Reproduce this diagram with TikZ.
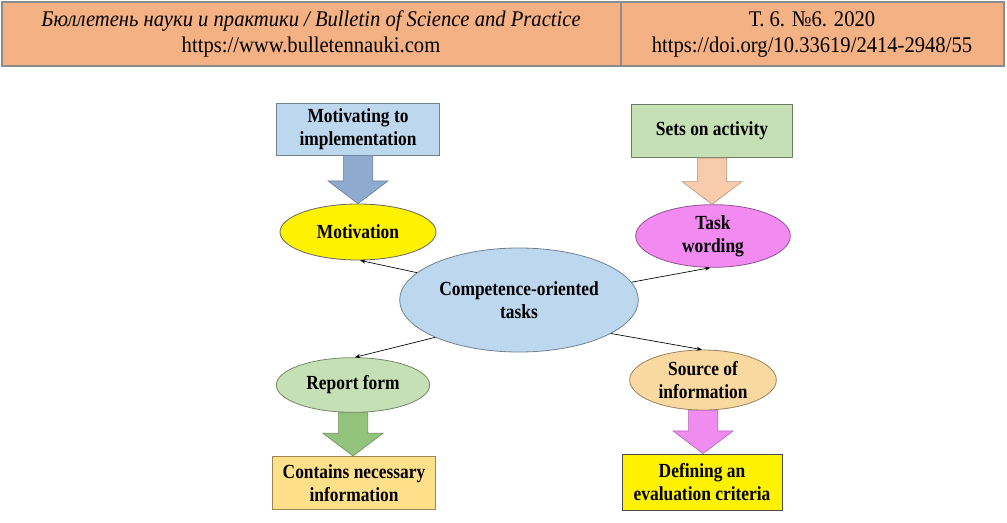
\documentclass[tikz,border=0pt]{standalone}
\usepackage{fontspec}
\setmainfont{Liberation Serif}
\newfontfamily\dfont[FakeStretch=0.87]{Liberation Serif}
\newfontfamily\hfont[FakeStretch=0.92]{Liberation Serif}
\usetikzlibrary{shapes.geometric,calc,arrows.meta}
\definecolor{hdr}{HTML}{F4B183}
\definecolor{hdrline}{HTML}{8C8C8C}
\definecolor{lblue}{HTML}{BDD7EE}
\definecolor{bblue}{HTML}{8FAACF}
\definecolor{lgreen}{HTML}{C5E0B4}
\definecolor{peach}{HTML}{F8CBAD}
\definecolor{lorange}{HTML}{FFE08A}
\definecolor{tan}{HTML}{FAD9A0}
\definecolor{pinkm}{HTML}{F28AF2}
\definecolor{greenar}{HTML}{93C47D}
\definecolor{magar}{HTML}{F08CF0}
\tikzset{
  box/.style={draw=#1!60!black, line width=0.6pt, fill=#1, minimum width=122pt, minimum height=39pt, inner sep=0pt, align=center, font=\dfont\bfseries\fontsize{15}{17}\selectfont},
  ell/.style={ellipse, draw=#1!60!black, line width=0.6pt, fill=#1, inner sep=0pt, align=center, font=\dfont\bfseries\fontsize{15}{17}\selectfont},
  link/.style={-{Stealth[length=4pt,width=3pt]}, line width=0.5pt, black},
  hdrtext/.style={align=center, font=\hfont\fontsize{16.8}{19.5}\selectfont}
}
\newcommand{\fatarrow}[3]{%
  \path[fill=#3, draw=#3!75!black, line width=0.5pt] let \p1=(#1.south), \p2=(#2.north) in
    ({\x1-11pt},\y1) -- ({\x1+11pt},\y1) -- ({\x1+11pt},{\y2+17pt}) -- ({\x1+22.5pt},{\y2+17pt})
    -- (\x1,\y2) -- ({\x1-22.5pt},{\y2+17pt}) -- ({\x1-11pt},{\y2+17pt}) -- cycle;}
\begin{document}
\begin{tikzpicture}[x=0.75pt,y=-0.75pt]
\useasboundingbox (0,0) rectangle (1007,522);
% header
\fill[hdr] (2,2) rectangle (1004,66);
\draw[hdrline, line width=2pt] (2,2) rectangle (1004,66);
\draw[hdrline, line width=1.5pt] (621,2) -- (621,66);
\node[hdrtext] (h1) at (311,34) {\textit{Бюллетень науки и практики / Bulletin of Science and Practice}\\https://www.bulletennauki.com};
\node[hdrtext] (h2) at (812,34) {Т. 6. №6. 2020\\https://doi.org/10.33619/2414-2948/55};
% boxes
\node[box=lblue, minimum width=122pt, minimum height=39pt] (mb) at (358,129) {Motivating to\\implementation};
\node[box=lgreen, draw=lgreen!55!black, minimum width=121pt, minimum height=40pt] (ab) at (712,131) {Sets on activity};
\node[box=lorange, minimum width=122pt, minimum height=40pt] (rb) at (354,483) {Contains necessary\\information};
\node[box=yellow, draw=black!70, minimum width=120pt, minimum height=42pt] (sb) at (702,482) {Defining an\\evaluation criteria};
% ellipses
\node[ell=yellow, draw=black!60, minimum width=117pt, minimum height=42pt] (mot) at (358,232) {Motivation};
\node[ell=pinkm, minimum width=116pt, minimum height=47pt] (task) at (713,236) {Task\\wording};
\node[ell=lblue, minimum width=179pt, minimum height=78pt] (c) at (519,300) {Competence-oriented\\tasks};
\node[ell=lgreen, minimum width=115pt, minimum height=41pt] (rep) at (353,385) {Report form};
\node[ell=tan, minimum width=110pt, minimum height=45pt] (src) at (703,380) {Source of\\information};
% fat arrows
\fatarrow{mb}{mot}{bblue}
\fatarrow{ab}{task}{peach}
\fatarrow{rep}{rb}{greenar}
\fatarrow{src}{sb}{magar}
% links
\draw[link] (c.165) -- (mot.-86);
\draw[link] (c.9) -- (task.-95);
\draw[link] (c.204) -- (rep.86);
\draw[link] (c.-20) -- (src.92);
\end{tikzpicture}
\end{document}
